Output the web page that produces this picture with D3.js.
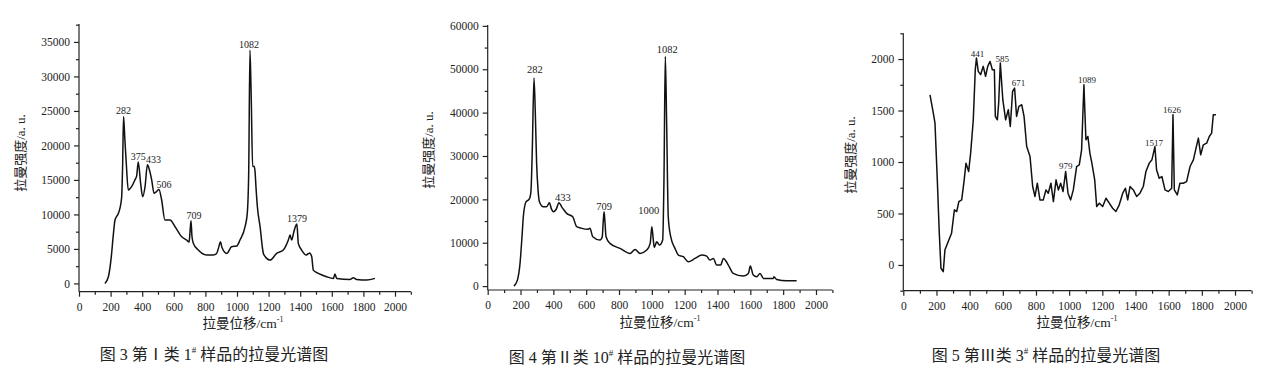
<!DOCTYPE html>
<html>
<head>
<meta charset="utf-8">
<script src="https://cdn.jsdelivr.net/npm/d3@7"></script>
<style>
    body { margin: 0; background: #fff; }
    svg text { font-family: "Liberation Serif", "Noto Sans CJK SC", serif; fill: #222; }
</style>
</head>
<body>
<svg id="chart" width="1269" height="378"></svg>
<script>
// Raman spectra: [shift cm-1, intensity a.u.]
const spectrum1 = [[164,0],[186,970],[205,4000],[217,7000],[228,9200],[249,10150],[260,11000],[270,12500],[276,17000],[282,24200],[290,21000],[298,17900],[312,13540],[333,14020],[354,15000],[365,15600],[375,17600],[390,14500],[403,12570],[418,14020],[433,17200],[445,16500],[460,15000],[475,13060],[490,13300],[506,13600],[523,12090],[544,9190],[576,9190],[608,8220],[650,6770],[681,6290],[697,6000],[703,7600],[709,9100],[715,6800],[724,5800],[755,4840],[808,4110],[850,4110],[871,4350],[885,5300],[895,6050],[905,5200],[935,4350],[966,5320],[998,5420],[1019,6290],[1051,8220],[1065,10150],[1074,16000],[1082,33800],[1090,27000],[1099,16930],[1108,17000],[1114,16300],[1120,14000],[1129,11120],[1146,8220],[1167,4350],[1188,3630],[1209,3390],[1251,4350],[1293,4840],[1325,6300],[1336,7010],[1346,6290],[1360,7500],[1371,8300],[1379,8600],[1388,5800],[1409,4840],[1437,4110],[1450,4300],[1460,4400],[1467,4200],[1473,3870],[1483,1930],[1515,1450],[1567,970],[1610,730],[1620,1350],[1631,730],[1715,580],[1736,820],[1757,580],[1821,480],[1873,730]];
const spectrum2 = [[160,0],[181,1380],[197,5230],[210,12000],[217,16000],[234,19460],[248,19850],[258,20500],[264,22150],[272,32000],[282,48000],[290,40000],[298,28300],[307,22000],[315,19460],[339,18300],[359,18300],[376,19230],[388,17800],[400,17150],[420,17920],[433,19200],[457,17920],[481,16770],[518,16000],[542,13690],[573,13310],[609,13080],[623,13310],[640,11380],[684,10620],[698,11380],[704,15000],[709,17150],[714,15000],[721,11380],[745,9850],[806,8690],[867,7540],[898,8460],[928,7540],[969,8310],[990,9850],[1000,13700],[1008,11000],[1015,8920],[1030,10230],[1046,9460],[1066,10620],[1074,25000],[1082,53000],[1090,38000],[1100,16000],[1115,11380],[1141,8690],[1162,7150],[1192,6770],[1222,5620],[1263,6380],[1304,7150],[1334,6920],[1354,6000],[1375,6380],[1395,4850],[1419,4850],[1436,6380],[1466,4850],[1496,2920],[1557,2310],[1588,2920],[1600,4620],[1618,2540],[1639,2150],[1659,2920],[1680,1770],[1740,1770],[1744,2150],[1760,1540],[1821,1230],[1882,1230]];
const spectrum3 = [[161,1653],[181,1475],[191,1378],[205,827],[217,308],[227,-32],[241,-65],[251,146],[271,227],[291,308],[308,535],[322,519],[335,616],[352,632],[366,810],[378,989],[394,908],[406,1086],[422,1410],[434,1896],[441,2010],[452,1880],[466,1848],[482,1929],[496,1832],[509,1929],[523,1977],[537,1896],[549,1896],[555,1443],[567,1410],[575,1572],[585,1961],[600,1605],[617,1410],[633,1508],[645,1345],[659,1686],[671,1718],[683,1443],[697,1540],[714,1556],[728,1443],[744,1151],[764,1054],[780,762],[794,665],[808,794],[824,632],[844,632],[860,729],[874,697],[890,794],[905,616],[921,827],[935,729],[949,794],[963,713],[979,908],[993,697],[1009,632],[1025,729],[1045,956],[1061,972],[1075,1118],[1089,1750],[1101,1216],[1113,1248],[1125,1086],[1137,989],[1154,827],[1166,567],[1182,600],[1202,567],[1222,648],[1242,600],[1262,551],[1282,519],[1302,584],[1323,697],[1339,745],[1353,632],[1367,762],[1387,729],[1407,665],[1427,697],[1447,762],[1463,908],[1483,989],[1499,1021],[1517,1150],[1527,924],[1543,843],[1559,859],[1578,729],[1598,713],[1618,745],[1626,1460],[1634,729],[1652,681],[1668,794],[1688,794],[1708,810],[1729,956],[1749,1021],[1765,1135],[1779,1232],[1793,1070],[1809,1167],[1829,1183],[1845,1248],[1859,1280],[1869,1459],[1885,1459]];

// labelled peaks
const peaks1 = [282, 375, 433, 506, 709, 1082, 1379];
const peaks2 = [282, 433, 709, 1000, 1082];
const peaks3 = [441, 585, 671, 979, 1089, 1517, 1626];

// tick labels
const xTicks = [0, 200, 400, 600, 800, 1000, 1200, 1400, 1600, 1800, 2000];
const yTicks1 = [0, 5000, 10000, 15000, 20000, 25000, 30000, 35000];
const yTicks2 = [0, 10000, 20000, 30000, 40000, 50000, 60000];
const yTicks3 = [0, 500, 1000, 1500, 2000];

const captions = [
    ['图 3 第Ⅰ类 1', '#', ' 样品的拉曼光谱图'],
    ['图 4 第Ⅱ类 10', '#', ' 样品的拉曼光谱图'],
    ['图 5 第Ⅲ类 3', '#', ' 样品的拉曼光谱图']
];
const yTitle = '拉曼强度/a. u.';
const xTitle = '拉曼位移/cm';

const serif = '"Liberation Serif", "Noto Sans CJK SC", serif';

// layout of the three panels (pixels)
const panels = [
    { data: spectrum1, peaks: peaks1, yTicks: yTicks1, yMinor: 2500, yDomain: [-1200, 37600],
      left: 79, right: 410.8, top: 24, bottom: 291.7, peakFont: 10, curve: d3.curveMonotoneX,
      nudge: { 433: [6, 0], 506: [5, 0], 709: [3, 0], 1082: [-1, 0] },
      yTitlePos: [22, 153], xTitlePos: [243, 328], caption: captions[0], capPos: [214, 360] },
    { data: spectrum2, peaks: peaks2, yTicks: yTicks2, yMinor: 5000, yDomain: [-900, 60200],
      left: 487.7, right: 832.4, top: 25, bottom: 290, peakFont: 10.5, curve: d3.curveMonotoneX,
      nudge: { 282: [1, -3], 433: [4, 0], 1000: [-3, -11], 1082: [2, -1] },
      yTitlePos: [430, 150], xTitlePos: [660, 327], caption: captions[1], capPos: [627, 363] },
    { data: spectrum3, peaks: peaks3, yTicks: yTicks3, yMinor: 250, yDomain: [-250, 2250],
      left: 903.3, right: 1251.6, top: 33.3, bottom: 290.7, peakFont: 9, curve: d3.curveLinear,
      nudge: { 441: [1, 1], 585: [2, 1], 671: [4, 0], 1089: [3, 0], 1517: [-1, 1], 1626: [-1, 0] },
      yTitlePos: [852, 155], xTitlePos: [1077, 327], caption: captions[2], capPos: [1046, 361] }
];

const svg = d3.select('#chart');
panels.forEach(drawPanel);

function drawPanel(p) {
    const x = d3.scaleLinear().domain([0, 2100]).range([p.left, p.right]);
    const y = d3.scaleLinear().domain(p.yDomain).range([p.bottom, p.top]);
    const g = svg.append('g');

    // minor ticks
    const xMinor = d3.range(100, 2101, 200);
    const yStep = p.yTicks[1] - p.yTicks[0];
    const yMinor = d3.range(p.yMinor, p.yDomain[1] + 1, yStep);
    if (p.yDomain[0] <= -p.yMinor) yMinor.unshift(-p.yMinor);

    g.append('g')
        .attr('transform', 'translate(0,' + p.bottom + ')')
        .call(d3.axisBottom(x).tickValues(xMinor).tickSize(3).tickSizeOuter(0).tickFormat(''))
        .call((a) => a.select('.domain').remove());
    g.append('g')
        .attr('transform', 'translate(' + p.left + ',0)')
        .call(d3.axisLeft(y).tickValues(yMinor).tickSize(3).tickSizeOuter(0).tickFormat(''))
        .call((a) => a.select('.domain').remove());

    // major axes
    const xAxis = g.append('g')
        .attr('transform', 'translate(0,' + p.bottom + ')')
        .call(d3.axisBottom(x).tickValues(xTicks).tickFormat(d3.format('d'))
            .tickSize(5).tickSizeOuter(0).tickPadding(6));
    const yAxis = g.append('g')
        .attr('transform', 'translate(' + p.left + ',0)')
        .call(d3.axisLeft(y).tickValues(p.yTicks).tickFormat(d3.format('d'))
            .tickSize(5).tickSizeOuter(0).tickPadding(4));
    xAxis.select('.domain').attr('d', 'M' + p.left + ',0H' + p.right);
    yAxis.select('.domain').attr('d', 'M0,' + p.bottom + 'V' + p.top);
    g.selectAll('.domain, .tick line').attr('stroke', '#222').attr('stroke-width', 1.2);
    g.selectAll('.tick text')
        .style('font-family', serif)
        .attr('font-size', 11.5)
        .attr('fill', '#222');

    // spectrum
    const line = d3.line().curve(p.curve)
        .x((d) => x(d[0]))
        .y((d) => y(d[1]));
    g.append('path')
        .attr('d', line(p.data))
        .attr('fill', 'none')
        .attr('stroke', '#111')
        .attr('stroke-width', 1.5)
        .attr('stroke-linejoin', 'round');

    // peak labels
    p.peaks.forEach((pk) => {
        const pt = p.data.find((d) => d[0] === pk);
        const n = p.nudge[pk] || [0, 0];
        g.append('text')
            .attr('x', x(pk) + n[0])
            .attr('y', y(pt[1]) - 2 + n[1])
            .attr('text-anchor', 'middle')
            .style('font-family', serif)
            .attr('font-size', p.peakFont)
            .attr('fill', '#333')
            .text(pk);
    });

    // axis titles
    g.append('text')
        .attr('transform', 'translate(' + p.yTitlePos[0] + ',' + p.yTitlePos[1] + ') rotate(-90)')
        .attr('text-anchor', 'middle')
        .attr('dominant-baseline', 'middle')
        .attr('font-size', 13)
        .text(yTitle);
    const xt = g.append('text')
        .attr('x', p.xTitlePos[0])
        .attr('y', p.xTitlePos[1])
        .attr('text-anchor', 'middle')
        .attr('font-size', 13.5);
    xt.append('tspan').text(xTitle);
    xt.append('tspan').attr('font-size', 8).attr('dy', -6).text('-1');

    // caption
    const cap = g.append('text')
        .attr('x', p.capPos[0])
        .attr('y', p.capPos[1])
        .attr('text-anchor', 'middle')
        .attr('font-size', 16)
        .attr('fill', '#111');
    cap.append('tspan').text(p.caption[0]);
    cap.append('tspan').attr('font-size', 9).attr('dy', -7).text(p.caption[1]);
    cap.append('tspan').attr('dy', 7).text(p.caption[2]);
}
</script>
</body>
</html>
